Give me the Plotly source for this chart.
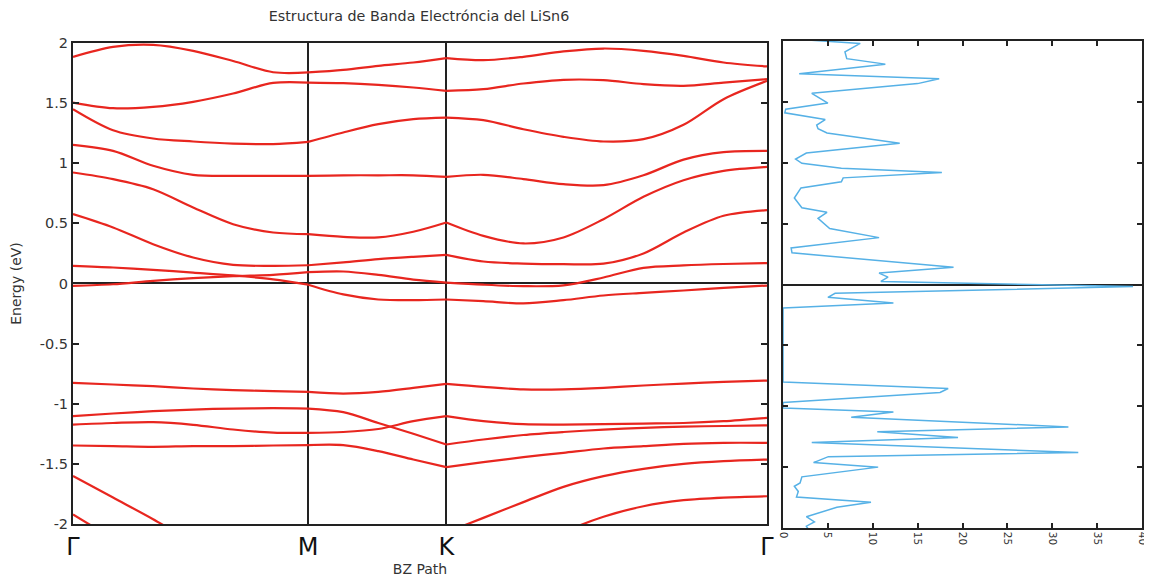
import plotly.graph_objects as go

# ---------------- data ----------------
# positions along the Brillouin-zone path (Γ=0 ... Γ=1)
k_path = [0.0000, 0.0577, 0.1154, 0.1731, 0.2307, 0.2884, 0.3389,
          0.3894, 0.4399, 0.4903, 0.5379,
          0.5913, 0.6490, 0.7067, 0.7644, 0.8220, 0.8797, 0.9374, 1.0000]

sym_k = [0.0, 0.3389, 0.5379, 1.0]
sym_labels = ["Γ", "M", "K", "Γ"]

band_a = [1.885, 1.968, 1.985, 1.935, 1.850, 1.757, 1.755, 1.777, 1.810, 1.838, 1.874,
          1.857, 1.885, 1.930, 1.954, 1.935, 1.893, 1.838, 1.805]
band_b = [1.505, 1.458, 1.469, 1.511, 1.580, 1.668, 1.671, 1.666, 1.652, 1.630, 1.602,
          1.616, 1.663, 1.694, 1.691, 1.658, 1.644, 1.671, 1.699]
band_c = [1.450, 1.275, 1.206, 1.181, 1.164, 1.159, 1.178, 1.256, 1.325, 1.367, 1.380,
          1.358, 1.283, 1.220, 1.181, 1.200, 1.320, 1.533, 1.685]
band_d = [1.153, 1.103, 0.979, 0.904, 0.895, 0.895, 0.895, 0.900, 0.900, 0.900, 0.887,
          0.904, 0.868, 0.826, 0.818, 0.900, 1.030, 1.092, 1.103]
band_e = [0.923, 0.868, 0.784, 0.632, 0.493, 0.424, 0.410, 0.388, 0.383, 0.430, 0.507,
          0.396, 0.333, 0.383, 0.535, 0.721, 0.859, 0.937, 0.970]
band_f = [0.577, 0.466, 0.327, 0.216, 0.155, 0.147, 0.152, 0.175, 0.202, 0.222, 0.238,
          0.183, 0.166, 0.161, 0.165, 0.250, 0.424, 0.563, 0.610]
band_g = [0.147, 0.133, 0.114, 0.091, 0.067, 0.035, -0.010, -0.091, -0.133, -0.139, -0.133,
          -0.147, -0.166, -0.139, -0.100, -0.078, -0.058, -0.036, -0.017]
band_h = [-0.019, -0.006, 0.022, 0.044, 0.061, 0.072, 0.094, 0.100, 0.072, 0.033, 0.008,
          -0.010, -0.022, -0.015, 0.050, 0.130, 0.150, 0.162, 0.170]
band_i = [-0.826, -0.840, -0.854, -0.873, -0.887, -0.895, -0.901, -0.915, -0.901, -0.868, -0.834,
          -0.859, -0.881, -0.881, -0.868, -0.848, -0.832, -0.818, -0.807]
band_j = [-1.103, -1.081, -1.062, -1.048, -1.040, -1.037, -1.040, -1.070, -1.160, -1.250, -1.339,
          -1.297, -1.260, -1.235, -1.215, -1.200, -1.190, -1.185, -1.180]
band_k = [-1.173, -1.160, -1.153, -1.175, -1.214, -1.240, -1.242, -1.235, -1.210, -1.145, -1.103,
          -1.145, -1.170, -1.173, -1.170, -1.165, -1.160, -1.145, -1.117]
band_l = [-1.347, -1.352, -1.358, -1.352, -1.352, -1.347, -1.344, -1.344, -1.394, -1.464, -1.527,
          -1.486, -1.444, -1.408, -1.372, -1.353, -1.333, -1.325, -1.325]
band_m = [-1.600, -1.780, -1.960, -2.150, -2.300, -2.400, -2.450, -2.450, -2.400, -2.180, -2.070,
          -1.949, -1.818, -1.691, -1.602, -1.541, -1.500, -1.477, -1.464]
band_n = [-1.920, -2.120, -2.300, -2.450, -2.550, -2.600, -2.600, -2.600, -2.600, -2.550, -2.500,
          -2.400, -2.250, -2.070, -1.940, -1.852, -1.802, -1.780, -1.769]

bands = [band_a, band_b, band_c, band_d, band_e, band_f, band_g,
         band_h, band_i, band_j, band_k, band_l, band_m, band_n]

# density of states (energy in eV, DOS value)
dos_energy = [2.02, 1.98, 1.91, 1.855, 1.81, 1.73, 1.69, 1.65, 1.57, 1.49, 1.44, 1.41,
              1.355, 1.31, 1.28, 1.245, 1.16, 1.08, 1.03, 0.995, 0.955, 0.92, 0.876, 0.843,
              0.793, 0.71, 0.63, 0.593, 0.543, 0.46, 0.385, 0.30, 0.26, 0.141, 0.094, 0.061,
              0.025, -0.017, -0.072, -0.105, -0.152, -0.194, -0.80, -0.854, -0.887, -0.97,
              -1.015, -1.048, -1.09, -1.17, -1.21, -1.256, -1.297, -1.38, -1.414, -1.463,
              -1.50, -1.58, -1.63, -1.657, -1.70, -1.746, -1.788, -1.83, -1.907, -1.95,
              -1.985, -2.03]
dos_values = [0.3, 8.6, 6.9, 7.1, 11.4, 1.8, 17.4, 15.0, 3.2, 5.0, 0.3, 0.2,
              4.7, 3.75, 3.9, 4.9, 13.0, 2.6, 1.4, 2.1, 6.5, 17.7, 6.7, 6.5,
              2.0, 1.26, 2.1, 4.9, 3.9, 5.2, 10.7, 0.9, 1.0, 19.0, 10.7, 11.7,
              10.9, 39.0, 5.8, 5.0, 12.3, 0.0, 0.0, 18.4, 17.5, 0.0,
              0.0, 12.3, 7.6, 31.8, 10.5, 19.5, 3.2, 32.9, 5.05, 3.4,
              10.6, 2.1, 1.9, 1.26, 1.7, 1.5, 9.8, 6.0, 2.6, 3.5,
              2.6, 3.0]

energy_ticks = [2, 1.5, 1, 0.5, 0, -0.5, -1, -1.5, -2]
energy_tick_text = ["2", "1.5", "1", "0.5", "0", "-0.5", "-1", "-1.5", "-2"]
dos_ticks = [0, 5, 10, 15, 20, 25, 30, 35, 40]

# ---------------- figure ----------------
BAND_COLOR = "#e8261f"
DOS_COLOR = "#56b1e6"
AX = "#222222"

fig = go.Figure()

# split each band at the high-symmetry points so kinks are preserved
seg_idx = [(0, 6), (6, 10), (10, 18)]
for b in bands:
    for i0, i1 in seg_idx:
        fig.add_trace(go.Scatter(
            x=k_path[i0:i1 + 1], y=b[i0:i1 + 1], mode="lines",
            line=dict(color=BAND_COLOR, width=2.2, shape="spline", smoothing=0.9),
            xaxis="x", yaxis="y", showlegend=False, hoverinfo="skip"))

fig.add_trace(go.Scatter(
    x=dos_values, y=dos_energy, mode="lines",
    line=dict(color=DOS_COLOR, width=1.5),
    xaxis="x2", yaxis="y2", showlegend=False, hoverinfo="skip"))

# the page body adds an 8px offset, so the figure is 8px smaller each way
fig.update_layout(
    width=1144, height=571,
    margin=dict(l=65, r=10, t=33, b=51, autoexpand=False),
    paper_bgcolor="white", plot_bgcolor="white",
    font=dict(family="DejaVu Sans", size=14, color="#333333"),
    title=dict(text="Estructura de Banda Electróncia del LiSn6",
               xref="container", x=0.3593, xanchor="center", y=0.986, yanchor="middle",
               font=dict(size=14.3, color="#333333"), automargin=False),
    xaxis=dict(domain=[0, 0.6492], range=[0, 1], anchor="y", automargin=False,
               tickmode="array", tickvals=sym_k, ticktext=sym_labels,
               tickfont=dict(size=24, color="#111111"),
               showgrid=True, gridcolor=AX, gridwidth=2,
               showline=True, linecolor=AX, linewidth=2, mirror=True,
               ticks="", zeroline=False,
               title=dict(text="BZ Path", font=dict(size=14), standoff=2)),
    yaxis=dict(domain=[0.0082, 0.9959], range=[-2, 2], anchor="x", automargin=False,
               tickmode="array", tickvals=energy_ticks, ticktext=energy_tick_text,
               ticks="inside", ticklen=6, tickwidth=1.5, tickcolor=AX,
               showline=True, linecolor=AX, linewidth=2, mirror="ticks",
               zeroline=True, zerolinecolor=AX, zerolinewidth=2,
               showgrid=False, tickfont=dict(size=14.5),
               title=dict(text="Energy (eV)", font=dict(size=14), standoff=26)),
    xaxis2=dict(domain=[0.6642, 1.0], range=[0, 40], anchor="y2", automargin=False,
                tickmode="array", tickvals=dos_ticks, tickangle=90,
                tickfont=dict(size=10.5, color="#333333"),
                ticks="inside", ticklen=5, tickwidth=1.5, tickcolor=AX,
                showline=True, linecolor=AX, linewidth=1.5, mirror="ticks",
                showgrid=False, zeroline=False),
    yaxis2=dict(domain=[0, 1], range=[-2, 2], anchor="x2", automargin=False,
                tickmode="array", tickvals=energy_ticks, showticklabels=False,
                ticks="inside", ticklen=5, tickwidth=1.5, tickcolor=AX,
                showline=True, linecolor=AX, linewidth=1.5, mirror="ticks",
                zeroline=True, zerolinecolor=AX, zerolinewidth=1.5,
                showgrid=False),
)

fig.write_html("out.html")
